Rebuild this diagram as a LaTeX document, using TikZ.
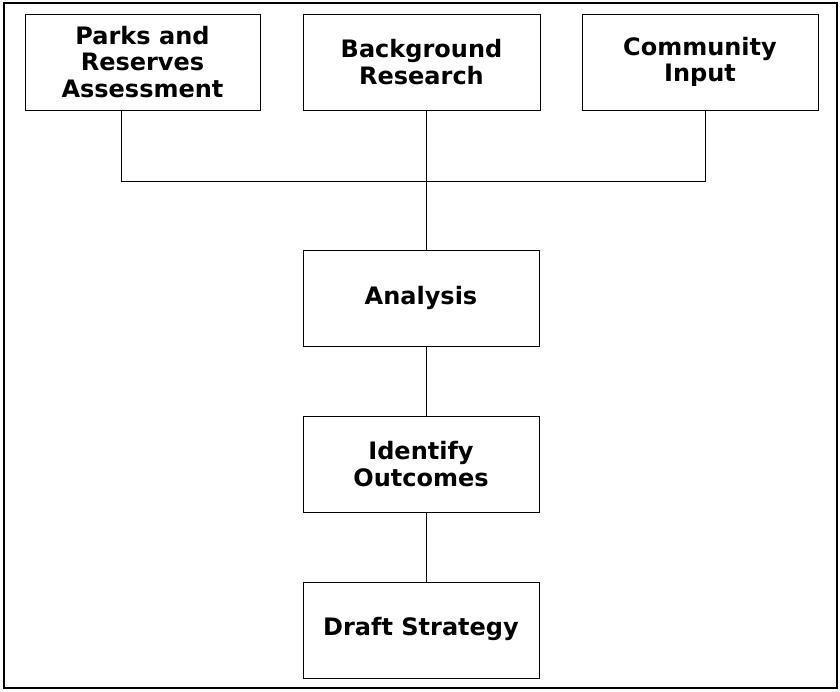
\documentclass[tikz,border=0pt]{standalone}
\usepackage{fontspec}
\setmainfont{DejaVu Sans}
\begin{document}
\begin{tikzpicture}[x=1pt,y=-1pt,
  stage/.style={draw=black,line width=1pt,inner sep=0pt,outer sep=0pt,
    minimum width=236pt,minimum height=96pt,align=center,
    font=\bfseries\fontsize{24}{26.5}\selectfont},
  link/.style={draw=black,line width=1pt}]
\useasboundingbox (0,0) rectangle (840,691);
\draw[line width=1.4pt] (4,3) rectangle (837,688);
\node[stage,minimum width=235pt] (parks) at (142.5,62) {Parks and\\Reserves\\Assessment};
\node[stage,minimum width=237pt] (bg) at (421.5,62) {Background\\Research};
\node[stage] (comm) at (700,62) {Community\\Input};
\node[stage] (ana) at (421,298) {\raisebox{6pt}{Analysis}};
\node[stage] (ident) at (421,464) {Identify\\Outcomes};
\node[stage] (draft) at (421,630) {\raisebox{7pt}{Draft Strategy}};
\coordinate (jl) at (121,181);
\coordinate (jm) at (426,181);
\coordinate (jr) at (705,181);
\draw[link] (parks.south -| jl) -- (jl) -- (jr) -- (comm.south -| jr);
\draw[link] (bg.south -| jm) -- (ana.north -| jm);
\draw[link] (ana.south -| jm) -- (ident.north -| jm);
\draw[link] (ident.south -| jm) -- (draft.north -| jm);
\end{tikzpicture}
\end{document}
